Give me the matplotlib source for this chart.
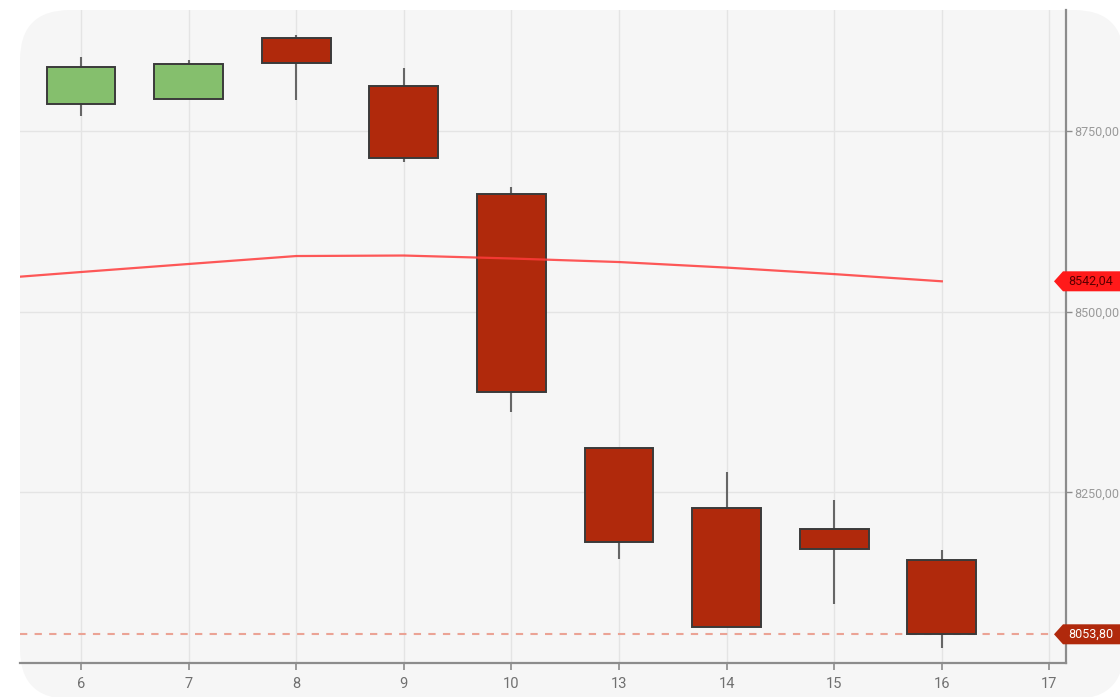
import numpy as np
import matplotlib
matplotlib.use("Agg")
import matplotlib.pyplot as plt
from matplotlib.patches import FancyBboxPatch, Polygon, Rectangle
from matplotlib.ticker import FuncFormatter

plt.rcParams["font.family"] = ["Roboto", "DejaVu Sans"]

# trading days (day of month); "3" is the session before the visible window
days = ["3", "6", "7", "8", "9", "10", "13", "14", "15", "16", "17"]

# OHLC for 6..16 (17 has no candle yet)
opens = [8787.3, 8794.6, 8878.1, 8812.1, 8662.4, 8311.1, 8228.1, 8199.0, 8156.6]
highs = [8851.8, 8848.1, 8882.7, 8836.6, 8672.9, 8311.1, 8278.7, 8239.6, 8170.4]
lows = [8770.6, 8794.6, 8792.8, 8707.5, 8361.7, 8157.6, 8063.5, 8095.8, 8034.5]
closes = [8838.8, 8842.2, 8844.0, 8713.0, 8389.4, 8181.1, 8063.5, 8171.8, 8053.8]

# moving average, from day 3 to day 16
ma = [8543.5, 8554.9, 8566.0, 8577.0, 8577.7, 8573.6, 8568.7, 8561.0, 8552.0, 8542.04]

last_price = 8053.80
ma_last = 8542.04
yticks = [8250, 8500, 8750]

GREEN = "#85bf6d"
RED = "#b0290c"
EDGE = "#3a3a3a"
PANEL = "#f6f6f6"


def fmt(v, pos=None):
    return f"{v:.2f}".replace(".", ",")


def price_tag(fig, ax, value, face, txtcolor):
    # pentagon tag pointing left onto the right axis, in pixel units
    _, y = ax.transData.transform((0, value))
    x0 = ax.transAxes.transform((1, 0))[0] - 12
    h = 10
    pts = [(x0, y), (x0 + 9, y + h), (x0 + 90, y + h), (x0 + 90, y - h), (x0 + 9, y - h)]
    fig.patches.append(Polygon(pts, closed=True, transform=None, facecolor=face,
                               edgecolor="none", zorder=10))
    fig.text((x0 + 14) / fig.bbox.width, y / fig.bbox.height, fmt(value),
             color=txtcolor, fontsize=9, va="center", ha="left", zorder=11)


def main():
    fig = plt.figure(figsize=(11.2, 6.97), dpi=100)
    fig.patch.set_facecolor("white")

    panel = FancyBboxPatch((20, -2), 1104, 689, boxstyle="round,pad=0,rounding_size=50",
                           transform=None, facecolor=PANEL, edgecolor="none", zorder=-5)
    fig.patches.append(panel)

    ax = fig.add_axes([20 / 1120, 34 / 697, 1046 / 1120, 653 / 697])
    ax.set_facecolor("none")
    ax.set_zorder(1)

    pos = np.arange(len(days))
    cpos = pos[1:1 + len(opens)]
    w = 0.64
    for x, o, h, l, c in zip(cpos, opens, highs, lows, closes):
        col = GREEN if c >= o else RED
        ax.vlines(x, l, h, color="#666666", lw=1.5, zorder=2)
        ax.add_patch(Rectangle((x - w / 2, min(o, c)), w, abs(c - o), facecolor=col,
                               edgecolor=EDGE, lw=1.4, zorder=3))

    ax.plot(pos[:len(ma)], ma, color="#ff3b3b", lw=1.6, alpha=0.85, zorder=4)
    ax.axhline(last_price, color="#eba395", lw=1.5, ls=(0, (3.5, 3.5)), zorder=1)

    ax.set_xlim(0.433, 10.154)
    ax.set_ylim(8014.1, 8917.3)

    ax.set_xticks(pos[1:])
    ax.set_xticklabels(days[1:])
    ax.set_yticks(yticks)
    ax.yaxis.set_major_formatter(FuncFormatter(fmt))
    ax.yaxis.tick_right()
    ax.grid(True, color="#e4e4e4", lw=1, zorder=0)
    ax.set_axisbelow(True)

    for s in ["top", "left"]:
        ax.spines[s].set_visible(False)
    for s in ["right", "bottom"]:
        ax.spines[s].set_color("#8c8c8c")
        ax.spines[s].set_linewidth(1.6)
    ax.tick_params(axis="x", colors="#8c8c8c", length=5, width=1.2, labelsize=10.5,
                   labelcolor="#707070", pad=5)
    ax.tick_params(axis="y", colors="#8c8c8c", length=4, width=1, labelsize=9,
                   labelcolor="#9a9a9a", pad=2)

    price_tag(fig, ax, ma_last, "#ff1a1a", "#5a0000")
    price_tag(fig, ax, last_price, RED, "white")

    fig.savefig("out.png", dpi=100)


if __name__ == "__main__":
    main()
